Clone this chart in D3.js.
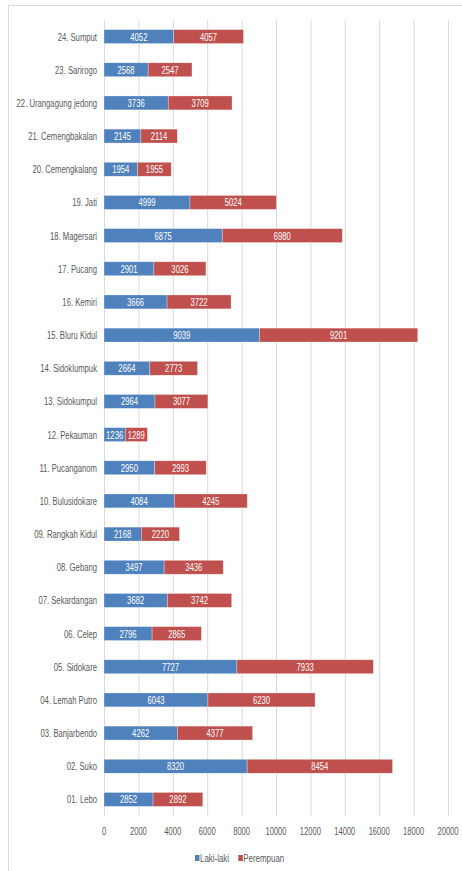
<!DOCTYPE html>
<html>
<head>
<meta charset="utf-8">
<script src="https://cdn.jsdelivr.net/npm/d3@7"></script>
<style>
    body { margin: 0; background: #fff; }
    text { font-family: "Liberation Sans", Arial, sans-serif; }
</style>
</head>
<body>
<svg id="chart" width="462" height="871"></svg>
<script>
// data, bottom to top as in the source sheet
const categories = [
    "01. Lebo", "02. Suko", "03. Banjarbendo", "04. Lemah Putro", "05. Sidokare",
    "06. Celep", "07. Sekardangan", "08. Gebang", "09. Rangkah Kidul", "10. Bulusidokare",
    "11. Pucanganom", "12. Pekauman", "13. Sidokumpul", "14. Sidoklumpuk", "15. Bluru Kidul",
    "16. Kemiri", "17. Pucang", "18. Magersari", "19. Jati", "20. Cemengkalang",
    "21. Cemengbakalan", "22. Urangagung jedong", "23. Sarirogo", "24. Sumput"
];
const lakiLaki = [2852, 8320, 4262, 6043, 7727, 2796, 3682, 3497, 2168, 4084,
    2950, 1236, 2964, 2664, 9039, 3666, 2901, 6875, 4999, 1954, 2145, 3736, 2568, 4052];
const perempuan = [2892, 8454, 4377, 6230, 7933, 2865, 3742, 3436, 2220, 4245,
    2993, 1289, 3077, 2773, 9201, 3722, 3026, 6980, 5024, 1955, 2114, 3709, 2547, 4057];
const seriesNames = ["Laki-laki", "Perempuan"];
const xTicks = [0, 2000, 4000, 6000, 8000, 10000, 12000, 14000, 16000, 18000, 20000];

const colors = ["#4F81BD", "#C0504D"];
const squeeze = 0.7; // the source picture is narrow-font, squashed sideways

const svg = d3.select("#chart");

// places a text at (x, y) squeezed horizontally
function place(sel, fx, fy, s = squeeze) {
    sel.attr("transform", (d, i) => `translate(${fx(d, i)},${fy(d, i)}) scale(${s},1)`);
}

// chart frame
svg.append("rect")
    .attr("x", 8.5).attr("y", 5.5)
    .attr("width", 470).attr("height", 880)
    .attr("fill", "none").attr("stroke", "#d9d9d9");

const x = d3.scaleLinear().domain([0, 20000]).range([104, 448]);
const y = d3.scaleBand()
    .domain(categories.slice().reverse())
    .range([20, 816])
    .paddingInner(0.58)
    .paddingOuter(0.29);

// gridlines
svg.append("g")
    .selectAll("line")
    .data(xTicks)
    .join("line")
    .attr("x1", d => x(d) + 0.5).attr("x2", d => x(d) + 0.5)
    .attr("y1", 20).attr("y2", 816)
    .attr("stroke", "#d9d9d9");

// tick labels
svg.append("g")
    .selectAll("text")
    .data(xTicks)
    .join("text")
    .call(place, d => x(d), () => 835, 0.69)
    .attr("text-anchor", "middle")
    .attr("font-size", 11)
    .attr("fill", "#595959")
    .text(d => d);

// category labels
svg.append("g")
    .selectAll("text")
    .data(categories)
    .join("text")
    .call(place, () => 97, d => y(d) + y.bandwidth() / 2)
    .attr("dy", "0.36em")
    .attr("text-anchor", "end")
    .attr("font-size", 11)
    .attr("fill", "#595959")
    .text(d => d);

const table = categories.map((c, i) => ({ cat: c, a: lakiLaki[i], b: perempuan[i] }));
const stacked = d3.stack().keys(["a", "b"])(table);

const layers = svg.append("g")
    .selectAll("g")
    .data(stacked)
    .join("g")
    .attr("fill", (d, i) => colors[i]);

layers.selectAll("rect")
    .data(d => d)
    .join("rect")
    .attr("x", d => x(d[0]))
    .attr("y", d => y(d.data.cat))
    .attr("width", d => x(d[1]) - x(d[0]))
    .attr("height", y.bandwidth())
    .attr("stroke", "#fff")
    .attr("stroke-opacity", 0.5)
    .attr("stroke-width", 0.6);

layers.selectAll("text")
    .data(d => d)
    .join("text")
    .call(place, d => (x(d[0]) + x(d[1])) / 2, d => y(d.data.cat) + y.bandwidth() / 2)
    .attr("dy", "0.36em")
    .attr("text-anchor", "middle")
    .attr("font-size", 11)
    .attr("fill", "#fff")
    .text(d => d[1] - d[0]);

// legend
const legend = svg.append("g").attr("transform", "translate(195,858)");
const legendX = [0, 43.3];
seriesNames.forEach((name, i) => {
    legend.append("rect")
        .attr("x", legendX[i]).attr("y", -3)
        .attr("width", 4.5).attr("height", 6)
        .attr("fill", colors[i]);
    legend.append("text")
        .attr("transform", `translate(${legendX[i] + 5},0) scale(0.72,1)`)
        .attr("dy", "0.36em")
        .attr("font-size", 11)
        .attr("fill", "#595959")
        .text(name);
});
</script>
</body>
</html>
